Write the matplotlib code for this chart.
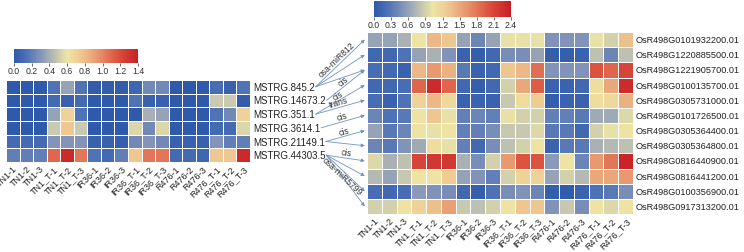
import numpy as np
import matplotlib
matplotlib.use("Agg")
import matplotlib.pyplot as plt
from matplotlib.colors import LinearSegmentedColormap
from matplotlib.patches import ConnectionPatch

plt.rcParams['font.family'] = ['Liberation Sans', 'DejaVu Sans']

""" Data """
samples = ["TN1-1", "TN1-2", "TN1-3", "TN1_T-1", "TN1_T-2", "TN1_T-3",
           "IR36-1", "IR36-2", "IR36-3", "IR36_T-1", "IR36_T-2", "IR36_T-3",
           "R476-1", "R476-2", "R476-3", "R476_T-1", "R476_T-2", "R476_T-3"]

lnc_names = ["MSTRG.845.2", "MSTRG.14673.2", "MSTRG.351.1",
             "MSTRG.3614.1", "MSTRG.21149.1", "MSTRG.44303.5"]
lnc_vals = [
    [0.0, 0.0, 0.0, 0.15, 0.35, 0.15, 0.02, 0.02, 0.02, 0.08, 0.25, 0.25, 0.0, 0.0, 0.0, 0.12, 0.05, 0.15],
    [0.0, 0.0, 0.0, 0.10, 0.05, 0.10, 0.0, 0.0, 0.0, 0.15, 0.05, 0.05, 0.0, 0.0, 0.0, 0.50, 0.50, 0.02],
    [0.0, 0.0, 0.0, 0.35, 0.70, 0.15, 0.0, 0.0, 0.0, 0.0, 0.40, 0.35, 0.0, 0.0, 0.0, 0.15, 0.25, 0.70],
    [0.0, 0.0, 0.0, 0.50, 0.75, 0.50, 0.0, 0.0, 0.0, 0.55, 0.25, 0.55, 0.0, 0.0, 0.0, 0.10, 0.10, 0.55],
    [0.10, 0.10, 0.10, 0.30, 0.30, 0.30, 0.05, 0.05, 0.03, 0.25, 0.30, 0.25, 0.05, 0.05, 0.05, 0.30, 0.20, 0.20],
    [0.20, 0.20, 0.20, 1.10, 1.35, 1.05, 0.15, 0.10, 0.20, 0.75, 1.05, 1.05, 0.10, 0.10, 0.08, 0.75, 0.75, 1.35],
]

gene_names = ["OsR498G0101932200.01", "OsR498G1220885500.01", "OsR498G1221905700.01",
              "OsR498G0100135700.01", "OsR498G0305731000.01", "OsR498G0101726500.01",
              "OsR498G0305364400.01", "OsR498G0305364800.01", "OsR498G0816440900.01",
              "OsR498G0816441200.01", "OsR498G0100356900.01", "OsR498G0917313200.01"]
gene_vals = [
    [0.60, 0.60, 0.70, 1.05, 1.40, 1.30, 0.60, 0.40, 0.60, 1.00, 1.00, 1.00, 0.50, 0.50, 0.50, 1.00, 0.90, 1.35],
    [0.15, 0.15, 0.25, 0.60, 0.70, 0.50, 0.10, 0.05, 0.15, 0.45, 0.45, 0.60, 0.05, 0.05, 0.10, 0.80, 0.40, 0.80],
    [0.20, 0.15, 0.10, 1.40, 1.60, 1.45, 0.30, 0.10, 0.15, 1.30, 1.40, 1.85, 0.50, 0.50, 0.50, 2.00, 1.90, 2.10],
    [0.15, 0.15, 0.20, 1.90, 2.30, 1.90, 0.15, 0.05, 0.15, 0.90, 1.50, 1.95, 0.10, 0.10, 0.15, 1.10, 1.50, 2.30],
    [0.20, 0.10, 0.25, 1.20, 1.40, 1.15, 0.10, 0.10, 0.10, 0.85, 1.10, 1.25, 0.05, 0.10, 0.10, 1.10, 1.15, 1.45],
    [0.40, 0.25, 0.30, 1.05, 1.30, 1.00, 0.35, 0.40, 0.35, 1.00, 0.90, 0.90, 0.35, 0.35, 0.30, 0.65, 0.65, 0.95],
    [0.60, 0.30, 0.40, 1.05, 1.00, 1.05, 0.35, 0.35, 0.45, 0.85, 0.85, 0.95, 0.30, 0.30, 0.15, 0.90, 1.00, 1.05],
    [0.40, 0.30, 0.50, 0.65, 1.10, 1.00, 0.35, 0.15, 0.45, 0.80, 0.90, 1.05, 0.10, 0.30, 0.30, 0.70, 0.75, 0.80],
    [0.95, 0.70, 0.80, 2.10, 2.20, 2.20, 0.70, 0.45, 0.90, 1.60, 2.00, 2.00, 0.55, 1.05, 0.40, 1.60, 1.80, 2.35],
    [0.75, 0.60, 0.85, 1.05, 1.05, 1.25, 0.60, 0.50, 0.35, 0.90, 1.20, 1.20, 0.60, 0.90, 0.75, 1.50, 1.50, 1.60],
    [0.20, 0.15, 0.20, 0.55, 0.50, 0.45, 0.15, 0.05, 0.25, 0.45, 0.50, 0.40, 0.05, 0.02, 0.10, 0.25, 0.30, 0.45],
    [0.90, 0.90, 1.05, 1.20, 1.35, 1.55, 0.85, 0.80, 0.90, 1.05, 1.30, 1.30, 0.50, 0.85, 0.45, 1.05, 0.95, 1.05],
]

# (lncRNA row, gene row, relation)
links = [(0, 0, "osa-miR812"), (0, 1, ""), (0, 2, ""),
         (1, 2, "cis"), (2, 3, "cis"), (2, 4, "trans"),
         (3, 5, "cis"), (4, 6, "cis"), (4, 7, ""),
         (5, 8, "cis"), (5, 9, ""), (5, 10, "osa-miR5799"), (5, 11, "")]

""" Colormap """
cmap = LinearSegmentedColormap.from_list("heat", [
    (0.0, '#2f59aa'), (0.1, '#4d71b6'), (0.22, '#8797b8'), (0.33, '#bcc0b2'),
    (0.43, '#eee5a5'), (0.55, '#eec58e'), (0.7, '#e68c68'), (0.85, '#db4d3c'),
    (1.0, '#c81e26')])

fig = plt.figure(figsize=(7.44, 2.52), dpi=100)
W, H = 744, 252

def px_axes(x0, y0, x1, y1):
    return fig.add_axes([x0 / W, 1 - y1 / H, (x1 - x0) / W, (y1 - y0) / H])

def heat(ax, vals, rows, vmax, ysize):
    m = ax.pcolormesh(np.array(vals), cmap=cmap, vmin=0, vmax=vmax,
                      edgecolors='white', linewidth=0.7)
    ax.set_xlim(0, len(samples))
    ax.set_ylim(len(rows), 0)
    ax.set_xticks(np.arange(len(samples)) + 0.5)
    ax.set_xticklabels(samples, rotation=45, ha='right', rotation_mode='anchor',
                       fontsize=6.5, color='#222222')
    ax.set_yticks(np.arange(len(rows)) + 0.5)
    ax.set_yticklabels(rows, fontsize=ysize, color='#222222')
    ax.yaxis.tick_right()
    ax.tick_params(length=0, pad=2)
    for s in ax.spines.values():
        s.set_visible(False)
    return m

def cbar(cax, m, ticks):
    cb = fig.colorbar(m, cax=cax, orientation='horizontal', ticks=ticks)
    cb.outline.set_visible(False)
    cb.ax.tick_params(labelsize=6.3, length=2, width=0.5, pad=1, colors='#333333')
    cb.ax.set_xticklabels(["%.1f" % t for t in ticks])

ax1 = px_axes(6, 80, 250, 162)
m1 = heat(ax1, lnc_vals, lnc_names, 1.4, 7)
cax1 = px_axes(14, 49, 138, 63)
cbar(cax1, m1, np.arange(0, 1.41, 0.2))

ax2 = px_axes(367, 32, 633, 214)
m2 = heat(ax2, gene_vals, gene_names, 2.4, 6.6)
cax2 = px_axes(374, 1, 511, 17)
cbar(cax2, m2, np.arange(0, 2.41, 0.3))

# connecting arrows
fig.canvas.draw()
r = fig.canvas.get_renderer()
ends = []
for lab in ax1.get_yticklabels():
    bb = lab.get_window_extent(r)
    ends.append(ax1.transData.inverted().transform((bb.x1 + 1, (bb.y0 + bb.y1) / 2)))

for src, tgt, txt in links:
    xa = (ends[src][0], src + 0.5)
    xb = (-0.15, tgt + 0.5)
    con = ConnectionPatch(xyA=xa, coordsA=ax1.transData, xyB=xb, coordsB=ax2.transData,
                          arrowstyle='-|>', mutation_scale=5, color='#6f92c8', lw=0.6)
    fig.add_artist(con)
    if txt:
        pa = ax1.transData.transform(xa)
        pb = ax2.transData.transform(xb)
        ang = np.degrees(np.arctan2(pb[1] - pa[1], pb[0] - pa[0]))
        mid = (pa + pb) / 2
        side = -1 if txt == "osa-miR5799" else 1
        off = np.array([-np.sin(np.radians(ang)), np.cos(np.radians(ang))]) * 4.5 * side
        fx, fy = fig.transFigure.inverted().transform(mid + off)
        fig.text(fx, fy, txt, rotation=ang, ha='center', va='center',
                 fontsize=6.2, color='#333333', rotation_mode='anchor')

fig.savefig("out.png", dpi=100)
